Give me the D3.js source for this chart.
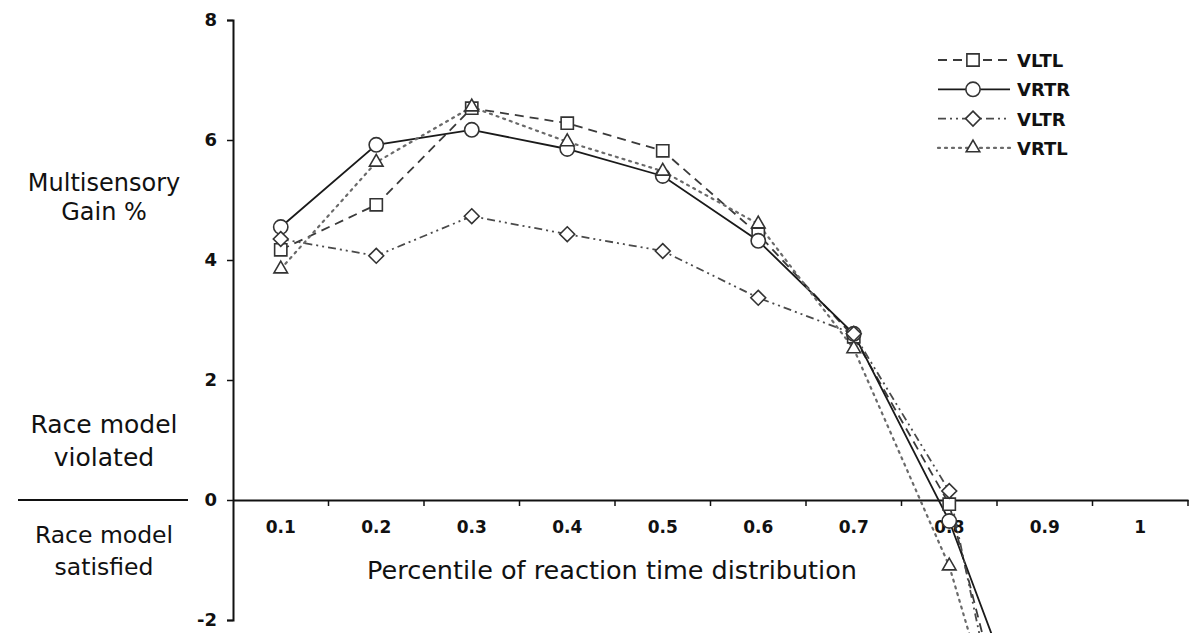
<!DOCTYPE html>
<html>
<head>
<meta charset="utf-8">
<script src="https://cdn.jsdelivr.net/npm/d3@7"></script>
<style>
  body { margin: 0; background: #fff; }
  svg { display: block; font-family: "DejaVu Sans", Verdana, sans-serif; }
</style>
</head>
<body>
<div id="chart"></div>
<script>
// percentile categories on the x axis
var percentiles = ["0.1", "0.2", "0.3", "0.4", "0.5", "0.6", "0.7", "0.8", "0.9", "1"];
var yTicks = [-2, 0, 2, 4, 6, 8];

// multisensory gain (%) per condition
var vltl = [4.17, 4.92, 6.53, 6.28, 5.82, 4.43, 2.72, -0.07, -6.3];
var vrtr = [4.55, 5.92, 6.17, 5.85, 5.40, 4.32, 2.77, -0.35, -4.6];
var vltr = [4.35, 4.07, 4.73, 4.43, 4.15, 3.37, 2.77, 0.15, -7.4];
var vrtl = [3.85, 5.63, 6.55, 5.97, 5.48, 4.60, 2.52, -1.10, -6.5];

var width = 1203, height = 633;
var font = "DejaVu Sans, Verdana, sans-serif";

var svg = d3.select("#chart")
    .append("svg")
    .attr("width", width)
    .attr("height", height);

var x = d3.scaleBand().domain(percentiles).range([233, 1188]);
var y = d3.scaleLinear().domain([-2, 8]).range([620, 20]);

var diamond = {
    draw: function (ctx, size) {
        var r = Math.sqrt(size) / 2 * Math.SQRT2;
        ctx.moveTo(0, -r); ctx.lineTo(r, 0); ctx.lineTo(0, r); ctx.lineTo(-r, 0); ctx.closePath();
    }
};

var series = [
    { name: "VLTL", values: vltl, symbol: d3.symbolSquare, size: 150, dash: "9,6", color: "#3a3a3a", w: 1.8 },
    { name: "VRTR", values: vrtr, symbol: d3.symbolCircle, size: 160, dash: null, color: "#1a1a1a", w: 1.8 },
    { name: "VLTR", values: vltr, symbol: diamond, size: 110, dash: "8,4,2,4,2,4", color: "#4a4a4a", w: 1.8 },
    { name: "VRTL", values: vrtl, symbol: d3.symbolTriangle, size: 80, dash: "2,5", color: "#6a6a6a", w: 2.2 }
];

// y axis
var yAxis = svg.append("g")
    .attr("transform", "translate(233,0)")
    .call(d3.axisLeft(y).tickValues(yTicks).tickSize(6).tickPadding(10).tickFormat(function (d) { return String(d); }))
    .attr("font-family", font)
    .attr("font-size", 18)
    .attr("font-weight", "bold");
yAxis.select(".domain").attr("stroke", "#111").attr("stroke-width", 2);
yAxis.selectAll(".tick line").attr("stroke", "#111").attr("stroke-width", 1.5);
yAxis.selectAll(".tick text").attr("fill", "#111");

// x axis on the zero line
var xAxis = svg.append("g")
    .attr("transform", "translate(0," + y(0) + ")")
    .call(d3.axisBottom(x).tickSize(0).tickPadding(21))
    .attr("font-family", font)
    .attr("font-size", 17)
    .attr("font-weight", "bold");
xAxis.select(".domain").attr("stroke", "#111").attr("stroke-width", 2);
xAxis.selectAll(".tick text").attr("fill", "#111");

// category boundary ticks
svg.append("g")
    .selectAll("line")
    .data(percentiles)
    .enter().append("line")
    .attr("x1", function (d) { return x(d) + x.bandwidth(); })
    .attr("x2", function (d) { return x(d) + x.bandwidth(); })
    .attr("y1", y(0))
    .attr("y2", y(0) + 6)
    .attr("stroke", "#111")
    .attr("stroke-width", 1.5);

var line = d3.line()
    .x(function (d, i) { return x(percentiles[i]) + x.bandwidth() / 2; })
    .y(function (d) { return y(d); });

series.forEach(function (s) {
    svg.append("path")
        .datum(s.values)
        .attr("d", line)
        .attr("fill", "none")
        .attr("stroke", s.color)
        .attr("stroke-width", s.w)
        .attr("stroke-dasharray", s.dash)
        .attr("stroke-linecap", s.name == "VRTL" ? "round" : "butt");
});

series.forEach(function (s) {
    svg.append("g")
        .selectAll("path")
        .data(s.values)
        .enter().append("path")
        .attr("d", d3.symbol().type(s.symbol).size(s.size))
        .attr("transform", function (d, i) {
            return "translate(" + (x(percentiles[i]) + x.bandwidth() / 2) + "," + y(d) + ")";
        })
        .attr("fill", "#fff")
        .attr("stroke", "#333")
        .attr("stroke-width", 1.6);
});

// legend
var legend = svg.selectAll("g.legend")
    .data(series)
    .enter().append("g")
    .attr("class", "legend")
    .attr("transform", function (d, i) { return "translate(938," + (60 + i * 29.3) + ")"; });

legend.append("line")
    .attr("x1", 0).attr("x2", 72)
    .attr("y1", 0).attr("y2", 0)
    .attr("stroke", function (d) { return d.color; })
    .attr("stroke-width", function (d) { return d.w; })
    .attr("stroke-dasharray", function (d) { return d.dash; })
    .attr("stroke-linecap", function (d) { return d.name == "VRTL" ? "round" : "butt"; });

legend.append("path")
    .attr("d", function (d) { return d3.symbol().type(d.symbol).size(d.size)(); })
    .attr("transform", "translate(35,0)")
    .attr("fill", "#fff")
    .attr("stroke", "#333")
    .attr("stroke-width", 1.6);

legend.append("text")
    .attr("x", 79)
    .attr("y", 7)
    .attr("fill", "#111")
    .attr("font-size", 18)
    .attr("font-weight", "bold")
    .text(function (d) { return d.name; });

// left annotations
var notes = [
    { t: "Multisensory", y: 191, s: 24 },
    { t: "Gain %", y: 220, s: 24 },
    { t: "Race model", y: 433, s: 25 },
    { t: "violated", y: 466, s: 25 },
    { t: "Race model", y: 543, s: 23.5 },
    { t: "satisfied", y: 575, s: 23.5 }
];
svg.append("g")
    .selectAll("text")
    .data(notes)
    .enter().append("text")
    .attr("x", 104)
    .attr("y", function (d) { return d.y; })
    .attr("text-anchor", "middle")
    .attr("fill", "#111")
    .attr("font-size", function (d) { return d.s; })
    .text(function (d) { return d.t; });

svg.append("line")
    .attr("x1", 18).attr("x2", 188)
    .attr("y1", y(0)).attr("y2", y(0))
    .attr("stroke", "#111")
    .attr("stroke-width", 2);

svg.append("text")
    .attr("x", 612)
    .attr("y", 579)
    .attr("text-anchor", "middle")
    .attr("fill", "#111")
    .attr("font-size", 25.5)
    .text("Percentile of reaction time distribution");
</script>
</body>
</html>
